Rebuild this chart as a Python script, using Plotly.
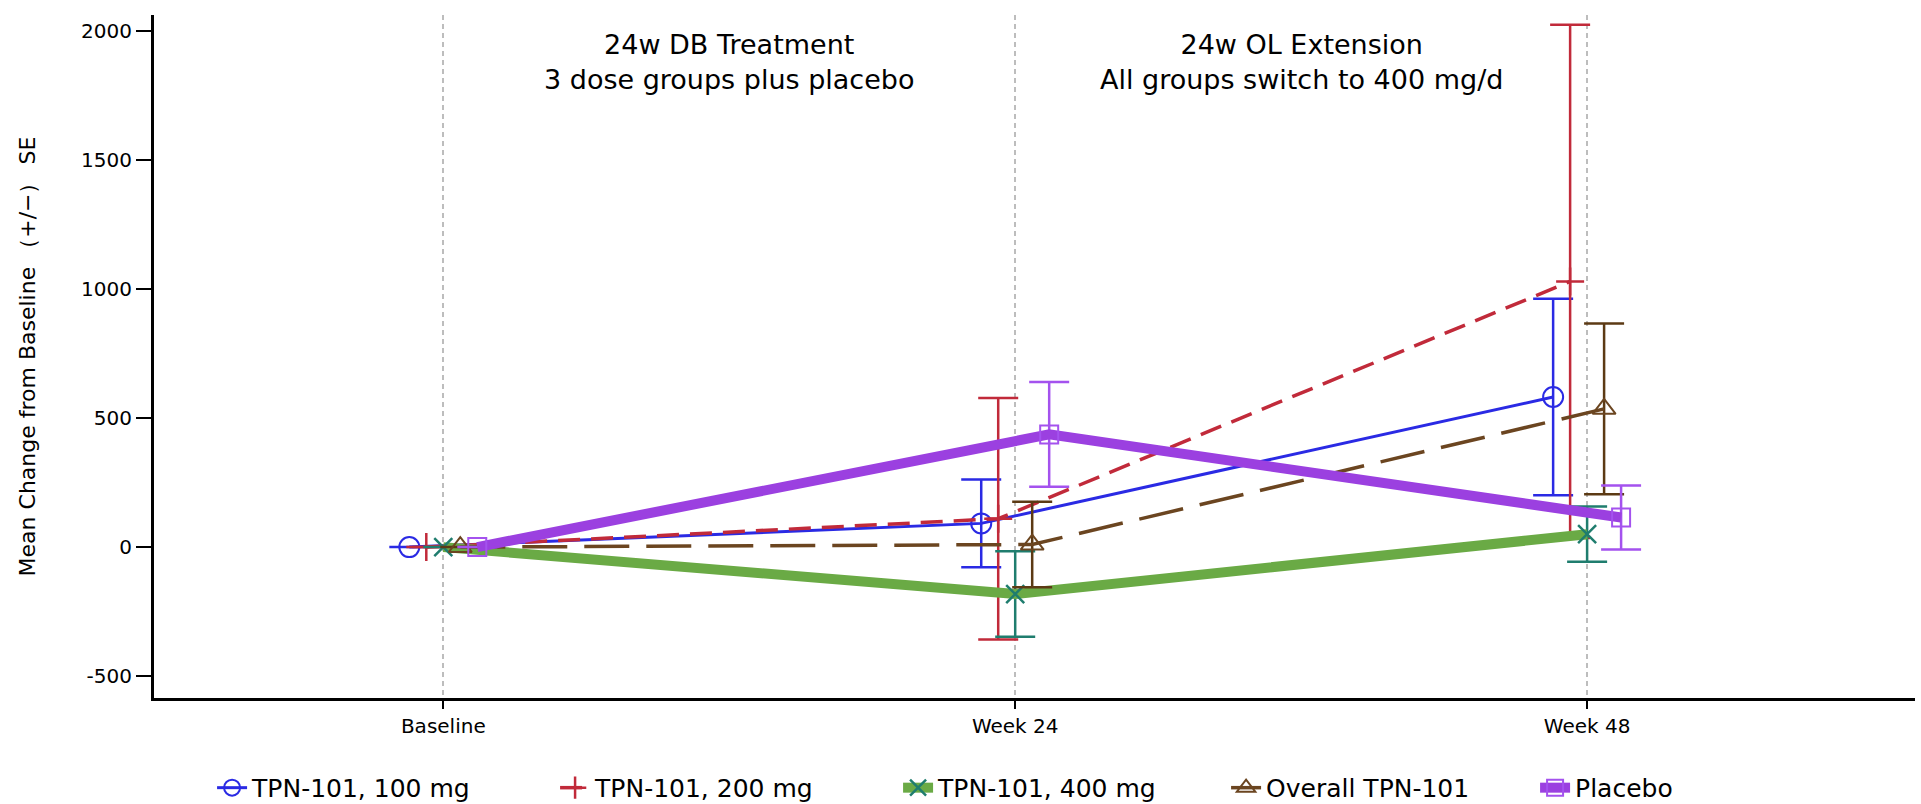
import plotly.graph_objects as go

# ---------------- data ----------------
WEEKS = [0, 24, 48]
X_LABELS = ["Baseline", "Week 24", "Week 48"]

GROUPS = ["TPN-101, 100 mg", "TPN-101, 200 mg", "TPN-101, 400 mg", "Overall TPN-101", "Placebo"]

MEAN_100 = [0, 92, 582]
SE_100 = [0, 170, 381]
MEAN_200 = [0, 110, 1030]
SE_200 = [0, 468, 995]
MEAN_400 = [0, -182, 50]
SE_400 = [0, 166, 107]
MEAN_ALL = [0, 10, 536]
SE_ALL = [0, 166, 331]
MEAN_PBO = [0, 437, 115]
SE_PBO = [0, 203, 124]

Y_TICKS = [-500, 0, 500, 1000, 1500, 2000]
Y_TICK_LABELS = ["-500", "0", "500", "1000", "1500", "2000"]

PHASE_TEXT = ["24w DB Treatment<br>3 dose groups plus placebo",
              "24w OL Extension<br>All groups switch to 400 mg/d"]
PHASE_X = [12, 36]
Y_TITLE = "Mean Change from Baseline （+/−） SE"

# ---------------- style ----------------
FONT = "DejaVu Sans, Verdana, sans-serif"
GROUP_OFFSET = 0.713  # horizontal dodge between groups (weeks)
LEGEND_WIDTHS = [298, 298, 283, 264, None]

STYLES = [
    dict(line=dict(color="#2A2AE4", width=3, dash="solid"),
         marker=dict(symbol="circle-open", size=20, color="#2A2AE4", line=dict(width=2, color="#2A2AE4")),
         err="#2A2AE4"),
    dict(line=dict(color="#C12A3A", width=3.5, dash="22px,11px"),
         marker=dict(symbol="cross-thin-open", size=20, color="#C12A3A", line=dict(width=2.5, color="#C12A3A")),
         err="#C12A3A"),
    dict(line=dict(color="#6AAA45", width=10, dash="solid"),
         marker=dict(symbol="x-thin-open", size=18, color="#1F7D6E", line=dict(width=2.5, color="#1F7D6E")),
         err="#1F7D6E"),
    dict(line=dict(color="#6B4520", width=3.5, dash="45px,17px"),
         marker=dict(symbol="triangle-up-open", size=20, color="#6B4520", line=dict(width=2, color="#6B4520")),
         err="#5C3A14"),
    dict(line=dict(color="#9B40E0", width=10, dash="solid"),
         marker=dict(symbol="square-open", size=18, color="#A452EE", line=dict(width=2, color="#A452EE")),
         err="#A452EE"),
]

MEANS = [MEAN_100, MEAN_200, MEAN_400, MEAN_ALL, MEAN_PBO]
SES = [SE_100, SE_200, SE_400, SE_ALL, SE_PBO]

fig = go.Figure()
for i, (name, m, se, st, lw) in enumerate(zip(GROUPS, MEANS, SES, STYLES, LEGEND_WIDTHS)):
    xs = [w + (i - 2) * GROUP_OFFSET for w in WEEKS]
    tr = go.Scatter(
        x=xs, y=m, name=name, mode="lines+markers",
        line=st["line"], marker=st["marker"],
        error_y=dict(type="data", array=se, visible=True, color=st["err"], thickness=2.5, width=20),
    )
    if lw:
        tr.legendwidth = lw
    fig.add_trace(tr)

annotations = []
for txt, xp in zip(PHASE_TEXT, PHASE_X):
    annotations.append(dict(x=xp, xref="x", y=0.931, yref="paper", text=txt, showarrow=False,
                            font=dict(size=27, family=FONT, color="black"),
                            xanchor="center", yanchor="middle", align="center"))
annotations.append(dict(x=-0.0716, xref="paper", y=0.5, yref="paper", text=Y_TITLE, showarrow=False,
                        textangle=-90, font=dict(size=22, family=FONT, color="black"),
                        xanchor="center", yanchor="middle"))

fig.update_layout(
    width=1921, height=804,
    margin=dict(l=154, r=6, t=15, b=106),
    plot_bgcolor="white", paper_bgcolor="white",
    font=dict(family=FONT, size=20, color="black"),
    xaxis=dict(range=[-12.14, 61.76], tickvals=WEEKS, ticktext=X_LABELS,
               showgrid=True, gridcolor="#BDBDBD", griddash="5px,4px", gridwidth=1.5,
               showline=True, linecolor="black", linewidth=3, mirror=False,
               ticks="outside", ticklen=8, tickwidth=2, tickcolor="black",
               zeroline=False, tickfont=dict(size=20)),
    yaxis=dict(range=[-585, 2063], tickvals=Y_TICKS, ticktext=Y_TICK_LABELS,
               showgrid=False, zeroline=False,
               showline=True, linecolor="black", linewidth=3,
               ticks="outside", ticklen=15, tickwidth=2, tickcolor="black",
               tickfont=dict(size=20)),
    legend=dict(orientation="h", xref="container", yref="container",
                x=0.1104, y=0.02, xanchor="left", yanchor="middle",
                font=dict(size=25, family=FONT), itemwidth=30, bgcolor="rgba(0,0,0,0)"),
    annotations=annotations,
    showlegend=True,
)

fig.write_html("out.html")
